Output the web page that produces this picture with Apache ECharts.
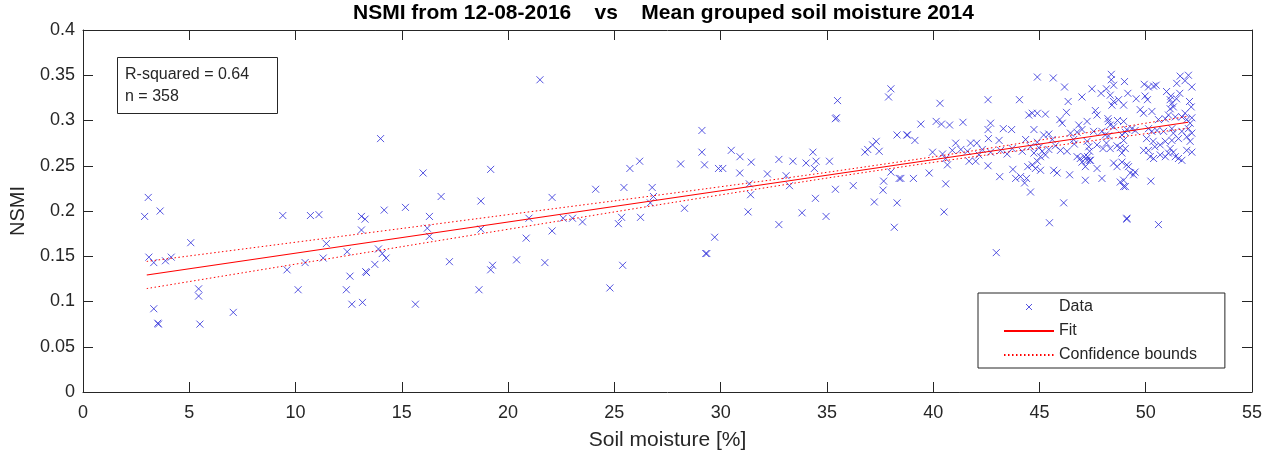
<!DOCTYPE html>
<html>
<head>
<meta charset="utf-8">
<script src="https://cdn.jsdelivr.net/npm/echarts@6.0.0/dist/echarts.min.js"></script>
<style>
html, body { margin: 0; padding: 0; background: #fff; }
#main { width: 1281px; height: 457px; }
</style>
</head>
<body>
<div id="main"></div>
<script>
// soil moisture [%] (x) and NSMI (y), same order
let soilMoisture = [
    14.0, 16.0, 3.07, 2.9, 3.63, 5.07, 9.4, 10.7, 11.1, 13.1, 13.27, 14.17, 15.17, 16.3, 13.1, 16.2, 16.3,
    3.1, 3.33, 3.88, 4.15, 11.45, 11.3, 10.45, 9.6, 12.43, 13.9, 14.08, 14.26, 13.73, 12.56, 13.34, 13.3,
    10.12, 12.39, 12.65, 13.15, 15.64, 5.44, 5.44, 3.33, 3.52, 3.55, 5.5, 7.07,
    21.5, 19.18, 16.85, 18.72, 18.72, 22.07, 22.07, 20.85, 20.98, 22.59, 23.03, 23.5, 24.12, 25.45, 25.34,
    25.19, 26.23, 25.73, 26.19, 26.78, 26.84, 26.69, 28.12, 29.12, 29.12, 29.24, 29.9, 28.3, 29.72, 29.3,
    29.35, 17.24, 19.27, 19.18, 20.4, 21.73, 25.39, 18.63, 24.79,
    38.01, 37.9, 35.5, 35.4, 35.45, 38.3, 38.76, 30.5, 30.91, 31.44, 30.1, 30.9, 32.74, 33.4, 34.02, 34.34,
    34.49, 34.41, 35.12, 32.2, 33.08, 31.35, 31.41, 31.29, 33.24, 34.46, 33.83, 34.96, 32.74, 35.4, 36.24,
    36.79, 36.92, 37.15, 37.32, 37.46, 38.01, 38.4, 37.67, 37.64, 37.23, 38.3, 38.17,
    44.9, 42.58, 44.06, 40.32, 39.42, 40.14, 40.39, 40.77, 41.4, 42.7, 42.58, 43.3, 43.69, 44.5, 38.79,
    39.14, 42.6, 43.1, 41.06, 41.76, 42.05, 44.74, 44.35, 39.97, 40.44, 40.9, 41.3, 41.61, 42.15, 42.31,
    42.7, 43.17, 43.48, 43.72, 44.19, 44.58, 40.59, 40.67, 41.69, 42.0, 42.58, 38.48, 39.07, 39.81, 40.59,
    40.51, 43.13, 43.75, 43.88, 44.11, 44.39, 44.3, 44.58, 44.45, 44.66, 44.9, 42.97,
    45.65, 48.38, 48.38, 48.49, 49.0, 46.18, 47.47, 47.9, 48.15, 47.0, 46.35, 48.33, 48.49, 48.41, 48.72,
    49.16, 47.63, 47.71, 46.27, 44.66, 44.9, 45.28, 45.96, 46.07, 46.85, 47.24, 48.22, 48.25, 48.33, 48.49,
    48.67, 49.11, 45.2, 45.44, 45.6, 46.46, 46.77, 47.0, 47.55, 47.94, 48.1, 48.25, 49.04, 44.9, 44.97,
    45.13, 45.44, 45.75, 45.99, 46.3, 46.61, 46.64, 47.24, 47.32, 47.36, 47.27, 47.36, 47.71, 47.99, 48.15,
    48.33, 48.65, 48.8, 44.74, 45.05, 45.28, 44.81, 45.05, 45.67, 45.83, 46.77, 46.92, 47.11, 47.24, 47.0,
    47.4, 47.16, 47.71, 48.49, 48.65, 48.88, 49.19, 46.42, 47.16, 47.94, 48.8, 48.96, 46.14, 45.47, 49.11,
    51.62, 52.01, 51.85, 51.46, 52.17, 49.93, 50.13, 50.37, 50.49, 50.98, 51.18, 51.45, 51.6, 49.55, 49.97,
    50.08, 51.15, 51.23, 51.3, 51.15, 52.06, 52.14, 51.85, 48.96, 49.74, 49.9, 50.29, 50.6, 50.92, 51.07,
    51.39, 51.7, 51.93, 52.17, 52.09, 48.96, 49.35, 49.5, 50.13, 50.29, 50.53, 50.84, 51.23, 51.3, 51.7,
    52.01, 52.17, 48.88, 48.96, 49.04, 48.88, 50.04, 50.35, 50.43, 50.13, 50.68, 50.92, 51.23, 51.54, 51.93,
    52.09, 49.9, 50.21, 50.37, 50.68, 50.92, 51.15, 51.07, 51.3, 51.39, 51.54, 51.7, 51.93, 52.17, 49.11,
    49.27, 49.43, 49.5, 48.96, 49.04, 50.24, 49.11, 50.6
];
let nsmi = [
    0.280, 0.242, 0.215, 0.194, 0.200, 0.165, 0.195, 0.195, 0.196, 0.194, 0.191, 0.201, 0.204, 0.194, 0.179, 0.181, 0.172,
    0.149, 0.143, 0.145, 0.149, 0.164, 0.148, 0.143, 0.135, 0.155, 0.158, 0.153, 0.148, 0.141, 0.128, 0.132, 0.133,
    0.113, 0.113, 0.097, 0.099, 0.097, 0.114, 0.106, 0.092, 0.076, 0.075, 0.075, 0.088,
    0.345, 0.246, 0.216, 0.211, 0.180, 0.215, 0.178, 0.170, 0.192, 0.192, 0.192, 0.188, 0.224, 0.226, 0.193,
    0.186, 0.193, 0.247, 0.255, 0.226, 0.216, 0.209, 0.252, 0.289, 0.265, 0.251, 0.247, 0.203, 0.171, 0.153,
    0.153, 0.144, 0.140, 0.135, 0.146, 0.143, 0.140, 0.113, 0.115,
    0.335, 0.326, 0.322, 0.302, 0.303, 0.284, 0.284, 0.267, 0.260, 0.254, 0.247, 0.242, 0.257, 0.255, 0.253, 0.265,
    0.255, 0.247, 0.255, 0.241, 0.239, 0.230, 0.218, 0.199, 0.228, 0.214, 0.198, 0.194, 0.185, 0.224, 0.228,
    0.265, 0.268, 0.273, 0.277, 0.266, 0.243, 0.236, 0.233, 0.223, 0.210, 0.209, 0.182,
    0.348, 0.323, 0.323, 0.319, 0.296, 0.299, 0.296, 0.295, 0.298, 0.297, 0.290, 0.291, 0.290, 0.306, 0.284,
    0.278, 0.280, 0.278, 0.275, 0.275, 0.275, 0.290, 0.279, 0.265, 0.263, 0.267, 0.268, 0.266, 0.262, 0.268,
    0.265, 0.267, 0.263, 0.269, 0.266, 0.271, 0.258, 0.251, 0.255, 0.255, 0.250, 0.236, 0.236, 0.242, 0.230,
    0.199, 0.238, 0.246, 0.236, 0.238, 0.236, 0.231, 0.221, 0.249, 0.251, 0.255, 0.154,
    0.347, 0.351, 0.345, 0.339, 0.343, 0.337, 0.335, 0.330, 0.335, 0.326, 0.321, 0.328, 0.321, 0.317, 0.323,
    0.330, 0.311, 0.306, 0.309, 0.308, 0.308, 0.307, 0.301, 0.297, 0.295, 0.299, 0.302, 0.299, 0.295, 0.293,
    0.300, 0.290, 0.284, 0.285, 0.279, 0.286, 0.287, 0.290, 0.288, 0.288, 0.284, 0.283, 0.287, 0.276, 0.270,
    0.266, 0.268, 0.272, 0.267, 0.266, 0.279, 0.274, 0.277, 0.271, 0.266, 0.260, 0.256, 0.273, 0.269, 0.275,
    0.269, 0.272, 0.270, 0.264, 0.260, 0.262, 0.247, 0.245, 0.245, 0.242, 0.260, 0.258, 0.260, 0.256, 0.254,
    0.256, 0.249, 0.247, 0.253, 0.249, 0.254, 0.249, 0.240, 0.234, 0.236, 0.232, 0.227, 0.209, 0.187, 0.192,
    0.349, 0.350, 0.344, 0.341, 0.337, 0.340, 0.337, 0.338, 0.339, 0.332, 0.327, 0.324, 0.330, 0.324, 0.327,
    0.323, 0.323, 0.319, 0.315, 0.313, 0.321, 0.315, 0.308, 0.317, 0.312, 0.308, 0.310, 0.301, 0.302, 0.306,
    0.304, 0.304, 0.301, 0.303, 0.297, 0.299, 0.291, 0.289, 0.291, 0.288, 0.289, 0.288, 0.291, 0.286, 0.288,
    0.291, 0.286, 0.284, 0.278, 0.269, 0.264, 0.280, 0.277, 0.271, 0.267, 0.273, 0.277, 0.278, 0.280, 0.282,
    0.277, 0.267, 0.260, 0.258, 0.262, 0.260, 0.269, 0.264, 0.265, 0.260, 0.258, 0.256, 0.267, 0.265, 0.251,
    0.242, 0.240, 0.243, 0.234, 0.227, 0.233, 0.191, 0.185
];
// fitted line, ends
let fitX = [3, 52];
let fitY = [0.1293, 0.2981];
// confidence bounds, read at a few x positions
let boundX = [3, 10, 20, 30, 38, 45, 52];
let boundUpper = [0.1443, 0.1655, 0.1960, 0.2268, 0.2529, 0.2782, 0.3047];
let boundLower = [0.1143, 0.1413, 0.1798, 0.2178, 0.2469, 0.2698, 0.2915];

let xTicks = [0, 5, 10, 15, 20, 25, 30, 35, 40, 45, 50, 55];
let yTicks = [0, 0.05, 0.1, 0.15, 0.2, 0.25, 0.3, 0.35, 0.4];

const FONT = 'Arial, "Liberation Sans", sans-serif';
const AXIS_COLOR = '#262626';

function pairs(xs, ys) {
    let out = [];
    for (let i = 0; i < xs.length; i++) {
        out.push([xs[i], ys[i]]);
    }
    return out;
}

let axisCommon = {
    axisLine: { show: true, onZero: false, lineStyle: { color: AXIS_COLOR, width: 1 } },
    axisTick: { show: true, inside: true, length: 10, lineStyle: { color: AXIS_COLOR } },
    splitLine: { show: false }
};

// line entries in the legend: no dot on the icon
let noDot = { color: 'rgba(0,0,0,0)', borderWidth: 0, opacity: 0 };

option = {
    animation: false,
    backgroundColor: '#ffffff',
    title: {
        text: 'NSMI from 12-08-2016    vs    Mean grouped soil moisture 2014',
        left: 353,
        top: 3,
        padding: 0,
        textStyle: { fontFamily: FONT, fontSize: 21, fontWeight: 'bold', color: '#000' }
    },
    grid: { left: 80, right: 29, top: 30, bottom: 65, containLabel: false },
    legend: {
        orient: 'vertical',
        left: 978,
        top: 293,
        padding: [6, 28, 5, 25],
        borderColor: AXIS_COLOR,
        borderWidth: 1,
        backgroundColor: '#fff',
        itemWidth: 50,
        itemHeight: 6,
        itemGap: 8,
        textStyle: { fontFamily: FONT, fontSize: 16, color: AXIS_COLOR },
        data: [
            { name: 'Data', itemStyle: { color: 'none', borderColor: '#2a2ad8', borderWidth: 1 } },
            { name: 'Fit', itemStyle: noDot },
            { name: 'Confidence bounds', itemStyle: noDot }
        ]
    },
    xAxis: [
        Object.assign({
            type: 'value',
            min: xTicks[0],
            max: xTicks[xTicks.length - 1],
            interval: 5,
            position: 'bottom',
            name: 'Soil moisture [%]',
            nameLocation: 'middle',
            nameGap: 38,
            nameTextStyle: { fontFamily: FONT, fontSize: 21, color: AXIS_COLOR },
            axisLabel: { fontFamily: FONT, fontSize: 18, color: AXIS_COLOR, margin: 12 }
        }, axisCommon),
        Object.assign({
            type: 'value',
            min: xTicks[0],
            max: xTicks[xTicks.length - 1],
            interval: 5,
            position: 'top',
            axisLabel: { show: false }
        }, axisCommon)
    ],
    yAxis: [
        Object.assign({
            type: 'value',
            min: yTicks[0],
            max: yTicks[yTicks.length - 1],
            interval: 0.05,
            position: 'left',
            name: 'NSMI',
            nameLocation: 'middle',
            nameGap: 55,
            nameTextStyle: { fontFamily: FONT, fontSize: 20, color: AXIS_COLOR },
            axisLabel: { fontFamily: FONT, fontSize: 18, color: AXIS_COLOR, margin: 8 }
        }, axisCommon),
        Object.assign({
            type: 'value',
            min: yTicks[0],
            max: yTicks[yTicks.length - 1],
            interval: 0.05,
            position: 'right',
            axisLabel: { show: false }
        }, axisCommon)
    ],
    // R-squared box
    graphic: [
        {
            type: 'rect',
            left: 117,
            top: 57,
            shape: { width: 160, height: 56 },
            style: { fill: '#fff', stroke: AXIS_COLOR, lineWidth: 1 },
            z: 10
        },
        {
            type: 'text',
            left: 125,
            top: 64,
            style: {
                text: 'R-squared = 0.64\nn = 358',
                font: '16px ' + FONT,
                lineHeight: 22,
                fill: AXIS_COLOR
            },
            z: 11
        }
    ],
    series: [
        {
            name: 'Data',
            type: 'scatter',
            data: pairs(soilMoisture, nsmi),
            symbol: 'path://M0,0L10,10M10,0L0,10',
            symbolSize: 7,
            symbolKeepAspect: true,
            itemStyle: { color: 'none', borderColor: '#2a2ad8', borderWidth: 1 },
            emphasis: { disabled: true },
            z: 2
        },
        {
            name: 'Fit',
            type: 'line',
            data: pairs(fitX, fitY),
            showSymbol: false,
            symbol: 'none',
            lineStyle: { color: '#ff0000', width: 1.2 },
            itemStyle: { color: '#ff0000' },
            z: 3
        },
        {
            name: 'Confidence bounds',
            type: 'line',
            data: pairs(boundX, boundUpper),
            smooth: true,
            showSymbol: false,
            symbol: 'none',
            lineStyle: { color: '#ff0000', width: 1, type: [1.5, 2.5] },
            itemStyle: { color: '#ff0000' },
            z: 3
        },
        {
            name: 'Confidence bounds',
            type: 'line',
            data: pairs(boundX, boundLower),
            smooth: true,
            showSymbol: false,
            symbol: 'none',
            lineStyle: { color: '#ff0000', width: 1, type: [1.5, 2.5] },
            itemStyle: { color: '#ff0000' },
            z: 3
        }
    ]
};

let myChart = echarts.init(document.getElementById('main'));
myChart.setOption(option);
</script>
</body>
</html>
